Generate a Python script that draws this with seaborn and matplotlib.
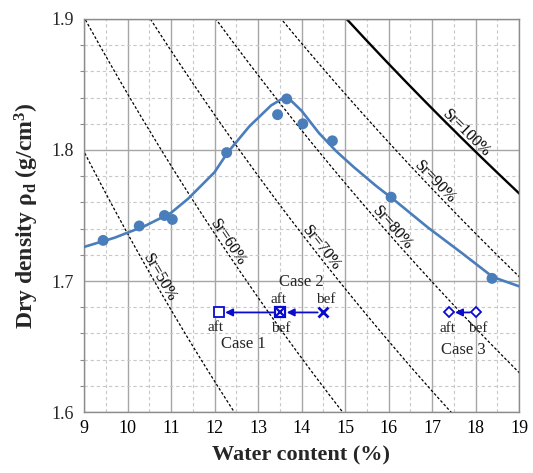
import numpy as np
import pandas as pd
import matplotlib
matplotlib.use("Agg")
import matplotlib.pyplot as plt
import seaborn as sns

# ---------------- data ----------------
# measured compaction points
w_points = [9.44, 10.27, 10.85, 11.03, 12.28, 13.45, 13.66, 14.03, 14.71, 16.06, 18.38]
rho_points = [1.731, 1.742, 1.750, 1.747, 1.798, 1.827, 1.839, 1.820, 1.807, 1.764, 1.702]

# fitted compaction curve
w_curve = [9.0, 9.7, 10.4, 11.0, 11.4, 12.0, 12.3, 12.8, 13.3, 13.55, 13.75, 14.0,
           14.4, 14.8, 15.2, 15.7, 16.2, 16.9, 17.7, 18.4, 19.0]
rho_curve = [1.726, 1.733, 1.742, 1.752, 1.763, 1.783, 1.798, 1.818, 1.834, 1.839, 1.838, 1.830,
             1.813, 1.799, 1.787, 1.773, 1.760, 1.741, 1.721, 1.703, 1.696]

# saturation lines
gs = 2.66
sr_levels = [50, 60, 70, 80, 90, 100]
sr_label_rho = [1.700, 1.727, 1.722, 1.737, 1.772, 1.809]

# test cases (before -> after water content)
case_names = ["Case 1", "Case 2", "Case 3"]
case_bef = [13.5, 14.5, 18.0]
case_aft = [12.1, 13.5, 17.4]
case_rho = 1.676

x_ticks = [9, 10, 11, 12, 13, 14, 15, 16, 17, 18, 19]
y_ticks = [1.6, 1.7, 1.8, 1.9]

# ---------------- style ----------------
sns.set_theme(style="white")
plt.rcParams["font.family"] = ["Liberation Serif", "DejaVu Serif"]
plt.rcParams["mathtext.fontset"] = "custom"
plt.rcParams["mathtext.rm"] = "Liberation Serif"
plt.rcParams["mathtext.it"] = "Liberation Serif:italic"
plt.rcParams["mathtext.bf"] = "Liberation Serif:bold"

curve_color = "#4a7ebb"
blue = "#0b0bcf"

fig = plt.figure(figsize=(5.33, 4.73), dpi=100)
ax = fig.add_axes([84 / 533, 1 - 412 / 473, 435 / 533, 393 / 473])
ax.set_xlim(9, 19)
ax.set_ylim(1.6, 1.9)

# grid
ax.set_xticks(x_ticks)
ax.set_yticks(y_ticks)
ax.set_xticks(np.arange(9.5, 19, 1.0), minor=True)
minor_y = [1.62, 1.64, 1.66, 1.68, 1.72, 1.74, 1.76, 1.78, 1.82, 1.84, 1.86, 1.88]
ax.set_yticks(minor_y, minor=True)
ax.grid(which="major", color="#a6a6a6", linewidth=1.0, linestyle="-")
ax.grid(which="minor", color="#c8c8c8", linewidth=0.8, linestyle=(0, (3, 2.5)))
ax.set_axisbelow(True)
for s in ax.spines.values():
    s.set_color("#8c8c8c")
    s.set_linewidth(1.0)
ax.tick_params(axis="x", which="both", length=0, labelsize=13, pad=6, colors="black")
ax.tick_params(axis="y", which="major", length=4, width=0.8, color="#8c8c8c", labelsize=13, pad=3)
ax.tick_params(axis="y", which="minor", length=3, width=0.8, color="#8c8c8c", left=True)
ax.set_xticklabels([str(t) for t in x_ticks])
ax.set_yticklabels([f"{t:.1f}" for t in y_ticks])

# saturation lines
w_line = np.linspace(8.0, 20.0, 300)
for sr in sr_levels:
    rho_line = gs / (1 + (w_line / 100) * gs / (sr / 100))
    if sr == 100:
        ax.plot(w_line, rho_line, color="black", linewidth=1.7, solid_capstyle="butt")
    else:
        ax.plot(w_line, rho_line, color="black", linewidth=0.9, linestyle=(0, (2.2, 1.6)))

fig.canvas.draw()
for sr, lr in zip(sr_levels, sr_label_rho):
    wl = (gs / lr - 1) * (sr / 100) / gs * 100
    r1 = gs / (1 + ((wl - 0.2) / 100) * gs / (sr / 100))
    r2 = gs / (1 + ((wl + 0.2) / 100) * gs / (sr / 100))
    p1 = ax.transData.transform((wl - 0.2, r1))
    p2 = ax.transData.transform((wl + 0.2, r2))
    ang = np.arctan2(p2[1] - p1[1], p2[0] - p1[0])
    nx, ny = -np.sin(ang), np.cos(ang)  # normal pointing upper-right
    ax.annotate(f"Sr={sr}%", xy=(wl, lr), xytext=(nx * 1.5, ny * 1.5),
                textcoords="offset points", rotation=np.degrees(ang),
                rotation_mode="anchor", ha="center", va="baseline",
                fontsize=11.5, color="black")

# compaction curve and points
curve_df = pd.DataFrame({"w": w_curve, "rho": rho_curve})
pts_df = pd.DataFrame({"w": w_points, "rho": rho_points})
sns.lineplot(data=curve_df, x="w", y="rho", ax=ax, color=curve_color, linewidth=1.9,
             sort=False, estimator=None, zorder=3)
sns.scatterplot(data=pts_df, x="w", y="rho", ax=ax, color=curve_color, s=62,
                edgecolor="none", zorder=4)

# cases
ax.plot([case_aft[0]], [case_rho], marker="s", markersize=6.8, mfc="white", mec=blue, mew=1.3, zorder=6)
ax.plot([case_bef[0]], [case_rho], marker="s", markersize=6.8, mfc="white", mec=blue, mew=1.6, zorder=6)
ax.plot([case_bef[0]], [case_rho], marker="x", markersize=5.2, mec=blue, mew=1.6, zorder=7)
ax.plot([case_bef[1]], [case_rho], marker="x", markersize=7.2, mec=blue, mew=2.0, zorder=6)
ax.plot([case_aft[2], case_bef[2]], [case_rho, case_rho], linestyle="none", marker="D",
        markersize=5.0, mfc="white", mec=blue, mew=1.3, zorder=6)

arrow_kw = dict(arrowstyle="-|>", color=blue, lw=1.3, mutation_scale=11)
ax.annotate("", xy=(case_aft[0], case_rho), xytext=(case_bef[0], case_rho),
            arrowprops=dict(**arrow_kw, shrinkA=4.5, shrinkB=4.5), zorder=5)
ax.annotate("", xy=(case_aft[1], case_rho), xytext=(case_bef[1], case_rho),
            arrowprops=dict(**arrow_kw, shrinkA=4, shrinkB=5), zorder=5)
ax.annotate("", xy=(case_aft[2], case_rho), xytext=(case_bef[2], case_rho),
            arrowprops=dict(**arrow_kw, shrinkA=4, shrinkB=4), zorder=5)

fs_small = 11
ax.text(13.48, 1.6858, "aft", ha="center", va="center", fontsize=fs_small)
ax.text(14.56, 1.6858, "bef", ha="center", va="center", fontsize=fs_small)
ax.text(13.99, 1.6995, "Case 2", ha="center", va="center", fontsize=12)
ax.text(12.03, 1.6645, "aft", ha="center", va="center", fontsize=fs_small)
ax.text(13.53, 1.6635, "bef", ha="center", va="center", fontsize=fs_small)
ax.text(12.66, 1.652, "Case 1", ha="center", va="center", fontsize=12)
ax.text(17.36, 1.6635, "aft", ha="center", va="center", fontsize=fs_small)
ax.text(18.04, 1.6635, "bef", ha="center", va="center", fontsize=fs_small)
ax.text(17.72, 1.6473, "Case 3", ha="center", va="center", fontsize=12)

ax.set_xlabel("Water content (%)", fontsize=16, fontweight="bold", labelpad=6)
ax.set_ylabel(r"Dry density ρ$_\mathbf{d}$ (g/cm$^\mathbf{3}$)", fontsize=17,
              fontweight="bold", labelpad=8)

fig.savefig("out.png", dpi=100)
